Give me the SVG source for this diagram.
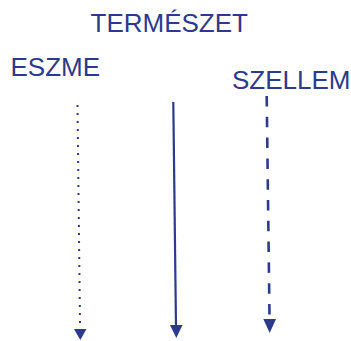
<svg xmlns="http://www.w3.org/2000/svg" width="351" height="341" viewBox="0 0 351 341">
<style>
.t{font-family:"Liberation Sans",Arial,sans-serif;font-size:26px;fill:#2c3a8c}
.c{stroke:#2c3a8c;fill:none}
.h{fill:#2c3a8c}
</style>
<rect width="351" height="341" fill="#fff"/>
<g id="termeszet"><text class="t" x="90.5" y="31.5">TERMÉSZET</text></g>
<g id="eszme"><text class="t" x="10.5" y="75.5">ESZME</text></g>
<g id="szellem"><text class="t" x="232" y="89">SZELLEM</text></g>
<g id="connectors">
<line class="c" x1="77.5" y1="105" x2="80" y2="324" stroke-width="2" stroke-dasharray="2 6"/>
<polygon class="h" points="74,329 86.5,329 80.3,340"/>
<line class="c" x1="173.3" y1="102" x2="176" y2="327" stroke-width="2.2"/>
<polygon class="h" points="170,325 182.5,325 176.3,338"/>
<line class="c" x1="266.7" y1="96" x2="269.5" y2="316" stroke-width="2.6" stroke-dasharray="10.5 10.3"/>
<polygon class="h" points="263.3,319 276,319 269.7,333"/>
</g>
</svg>
